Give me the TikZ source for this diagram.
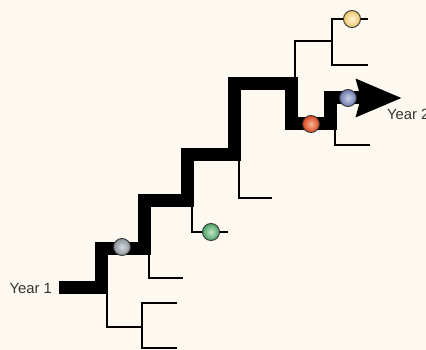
\documentclass[tikz,border=0pt]{standalone}
\usepackage{fontspec}
\setmainfont{Liberation Sans}
\usetikzlibrary{arrows.meta}

\definecolor{paper}{HTML}{FDF9F0}
\definecolor{labelgray}{HTML}{333333}
\definecolor{greyin}{HTML}{D6DADD}
\definecolor{greyout}{HTML}{8A939B}
\definecolor{greenin}{HTML}{BDE3C6}
\definecolor{greenout}{HTML}{4FA566}
\definecolor{redin}{HTML}{F6B895}
\definecolor{redout}{HTML}{D9451F}
\definecolor{bluein}{HTML}{CDD1E8}
\definecolor{blueout}{HTML}{6A78AE}
\definecolor{yellowin}{HTML}{FFF5D6}
\definecolor{yellowout}{HTML}{EEC66A}

\begin{document}
\begin{tikzpicture}[x=1pt, y=-1pt,
ballnode/.style={circle, draw=black!80, line width=0.9pt, minimum size=17pt, inner sep=0pt},
mainline/.style={line width=13pt, line join=miter},
thinline/.style={line width=2.5pt},
yearlabel/.style={text=labelgray, font=\fontsize{14.8}{17}\selectfont, inner sep=0pt},
]

\fill[paper] (0,0) rectangle (426,350);
\useasboundingbox (0,0) rectangle (426,350);

% trunk
\draw[mainline, -{Stealth[length=45pt, width=36pt, inset=4pt]}]
  (59,287) -- (101,287) -- (101,248) -- (144,248) -- (144,201) -- (187,201)
  -- (187,155) -- (234,155) -- (234,84) -- (291,84) -- (291,124) -- (330,124)
  -- (330,98) -- (402,98);

% side branches
\draw[thinline] (107,293) |- (142,327);
\draw[thinline] (177,303) -| (142,348) -- (177,348);
\draw[thinline] (149,254) |- (183,278);
\draw[thinline] (192,207) |- (228,232);
\draw[thinline] (239,161) |- (272,198);
\draw[thinline] (295,78) |- (332,41);
\draw[thinline] (368,19) -| (332,65) -- (368,65);
\draw[thinline] (335,130) |- (370,145);

% balls
\node[ballnode, inner color=greyin, outer color=greyout] (Grey)   at (122,247) {};
\node[ballnode, inner color=greenin, outer color=greenout] (Green)  at (211,232) {};
\node[ballnode, inner color=redin, outer color=redout] (Red)    at (311,124) {};
\node[ballnode, inner color=bluein, outer color=blueout] (Blue)   at (348,98) {};
\node[ballnode, inner color=yellowin, outer color=yellowout] (Yellow) at (352,19) {};

% labels
\node[yearlabel, anchor=east] (YearOne) at (52,288) {Year 1};
\node[yearlabel, anchor=west] (YearTwo) at (387,114) {Year 2};

\end{tikzpicture}
\end{document}
